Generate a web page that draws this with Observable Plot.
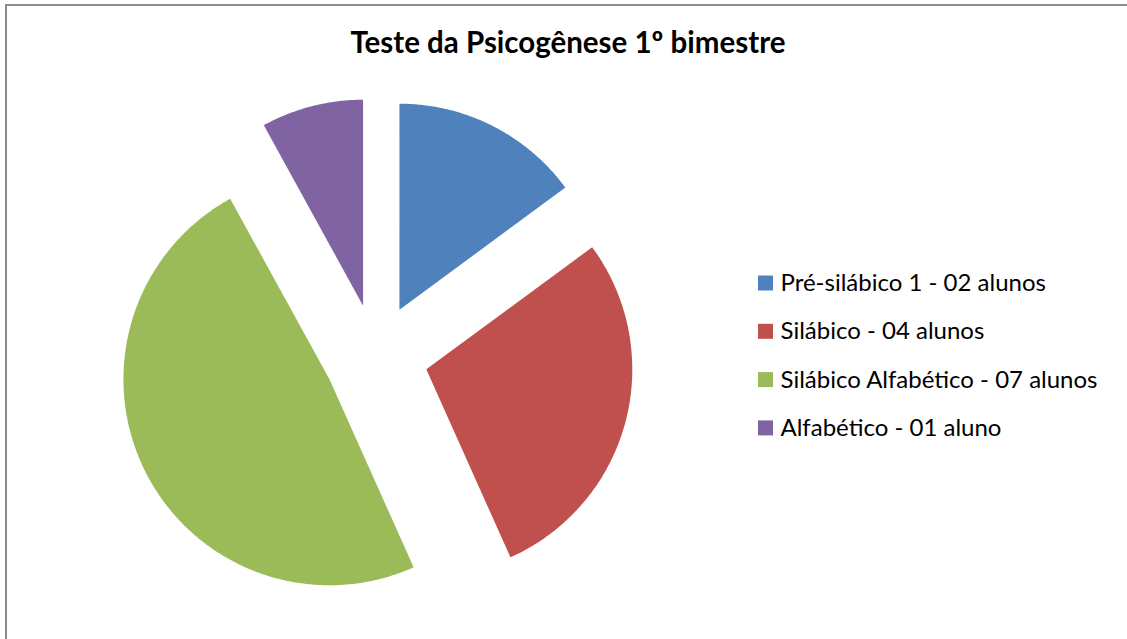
<!DOCTYPE html>
<html>
<head>
<meta charset="utf-8">
<script src="https://cdn.jsdelivr.net/npm/d3@7"></script>
<script src="https://cdn.jsdelivr.net/npm/@observablehq/plot@0.6"></script>
<style>
  html, body { margin: 0; padding: 0; background: #fff; }
  #wrap { position: relative; width: 1127px; height: 639px; overflow: hidden; }
  #frame { position: absolute; left: 5px; top: 4px; right: -10px; bottom: -10px;
           border-left: 2px solid #8c8c8c; border-top: 2px solid #8c8c8c; pointer-events: none; }
  #chart { position: absolute; left: 0; top: 0; }
</style>
</head>
<body>
<div id="wrap"><div id="chart"></div><div id="frame"></div></div>
<script>
const title = "Teste da Psicogênese 1º bimestre";
const categories = ["Pré-silábico 1 - 02 alunos", "Silábico - 04 alunos", "Silábico Alfabético - 07 alunos", "Alfabético - 01 aluno"];
// slice shares (%)
const values = [14.9, 28.4, 48.7, 8.0];
const colors = ["#4F81BD", "#C0504D", "#9BBB59", "#8064A2"];

const W = 1127, H = 639;
const cx = 375.5, cy = 355.6, R = 206, explode = 52;

const arcs = d3.pie().sort(null).value(d => d)(values);
const slicePts = [];
arcs.forEach((a, i) => {
  const mid = (a.startAngle + a.endAngle) / 2;
  const ox = cx + explode * Math.sin(mid), oy = cy - explode * Math.cos(mid);
  const cat = categories[i];
  slicePts.push({cat, x: ox, y: oy});
  const n = Math.max(2, Math.ceil((a.endAngle - a.startAngle) / (Math.PI / 360)));
  for (let k = 0; k <= n; k++) {
    const t = a.startAngle + (a.endAngle - a.startAngle) * k / n;
    slicePts.push({cat, x: ox + R * Math.sin(t), y: oy - R * Math.cos(t)});
  }
});

const legendX = 758, legendY0 = 283, legendStep = 48.3, sq = 15;
const legend = categories.map((c, i) => ({cat: c, y: legendY0 + i * legendStep}));

const chart = Plot.plot({
  width: W, height: H, margin: 0,
  style: {fontFamily: "Lato, 'Open Sans', sans-serif", background: "transparent"},
  x: {domain: [0, W], range: [0, W], axis: null},
  y: {domain: [0, H], range: [0, H], axis: null},
  color: {domain: categories, range: colors},
  marks: [
    Plot.line(slicePts, {x: "x", y: "y", z: "cat", fill: "cat", stroke: null, curve: "linear-closed"}),
    Plot.text([title], {x: 567.5, y: 43, text: d => d, fontSize: 29.5, fontWeight: "bold", fill: "#000", textAnchor: "middle"}),
    Plot.rect(legend, {x1: legendX, x2: legendX + sq, y1: d => d.y - sq / 2, y2: d => d.y + sq / 2, fill: "cat"}),
    Plot.text(legend, {x: legendX + sq + 7, y: "y", text: "cat", fontSize: 24, fill: "#000", textAnchor: "start"})
  ]
});
document.getElementById("chart").appendChild(chart);
</script>
</body>
</html>
